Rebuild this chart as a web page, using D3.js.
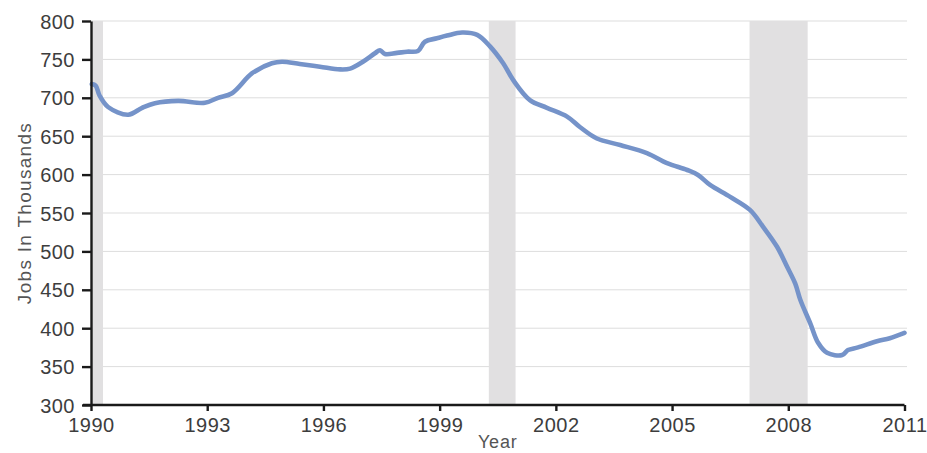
<!DOCTYPE html>
<html><head><meta charset="utf-8">
<script src="https://cdn.jsdelivr.net/npm/d3@7"></script>
<style>
body{margin:0;background:#fff}
text{font-family:"Liberation Sans",Arial,Helvetica,sans-serif}
</style>
</head><body>
<svg id="c" width="927" height="453"></svg>
<script>
// Data
const years = [1990.02,1990.12,1990.22,1990.44,1990.96,1991.32,1991.65,1992.25,1992.94,1993.28,1993.64,
  1994.16,1994.67,1994.93,1995.39,1995.91,1996.43,1996.69,1997.02,1997.33,1997.46,1997.59,1997.90,
  1998.16,1998.44,1998.62,1998.93,1999.19,1999.58,1999.97,2000.30,2000.64,2000.90,2001.33,2001.77,
  2002.29,2002.62,2003.06,2003.66,2004.35,2004.87,2005.39,2005.67,2005.98,2006.50,2007.01,2007.35,
  2007.71,2007.97,2008.18,2008.31,2008.57,2008.77,2009.00,2009.39,2009.54,2009.80,2010.29,2010.62,2011.0];
const jobs = [718,716,703,688,678,687,693,696,693.5,700,706,
  732,745,747,744,740.5,737,738,747,758,762,757,758.5,
  760,761,773,777.5,781,785,782,767,745,723,697,687,
  675.5,662,647,638.5,628,615,606,599.5,586.5,571,554,532,
  506,480,458,437,406,381,368,365,371.5,375,383,387,394];
const recessionStart = [1990.0, 2000.27, 2007.0];
const recessionEnd = [1990.31, 2000.96, 2008.5];
const xTicks = [1990,1993,1996,1999,2002,2005,2008,2011];
const yTicks = [300,350,400,450,500,550,600,650,700,750,800];

const svg = d3.select("#c");
const x = d3.scaleLinear().domain([1990,2011]).range([91,904.5]);
const y = d3.scaleLinear().domain([300,800]).range([405,21]);

// gridlines
svg.append("g").selectAll("line").data(yTicks.filter(d=>d>300)).join("line")
  .attr("x1", x(1990)).attr("x2", x(2011)+2.5)
  .attr("y1", d=>y(d)).attr("y2", d=>y(d))
  .attr("stroke","#dddddd").attr("stroke-width",1);

// recession bands
svg.append("g").selectAll("rect").data(recessionStart).join("rect")
  .attr("x",(d)=>x(d)).attr("width",(d,i)=>x(recessionEnd[i])-x(d))
  .attr("y",y(800)).attr("height",y(300)-y(800))
  .attr("fill","#e1e0e1");

// line
const pts = years.map((yr,i)=>[yr,jobs[i]]);
svg.append("path").datum(pts)
  .attr("fill","none").attr("stroke","#7593c9").attr("stroke-width",4.6)
  .attr("stroke-linejoin","round").attr("stroke-linecap","round")
  .attr("d", d3.line().x(d=>x(d[0])).y(d=>y(d[1])).curve(d3.curveCatmullRom.alpha(0.5)));

// axes
const yAxis = svg.append("g").attr("transform",`translate(${x(1990)},0)`)
  .call(d3.axisLeft(y).tickValues(yTicks).tickSize(9).tickSizeOuter(0).tickPadding(7));
yAxis.select(".domain").attr("stroke","#1a1a1a").attr("stroke-width",2.4);
yAxis.selectAll(".tick line").attr("stroke","#1a1a1a").attr("stroke-width",2.4);
yAxis.selectAll(".tick text").attr("font-size",20).attr("fill","#3d3d3d")
  .attr("letter-spacing","0.5px").attr("dy","0.35em")
  .attr("font-family","Liberation Sans, Arial, sans-serif");

const xAxis = svg.append("g").attr("transform",`translate(0,${y(300)})`)
  .call(d3.axisBottom(x).tickValues(xTicks).tickFormat(d3.format("d")).tickSize(6).tickSizeOuter(0).tickPadding(7));
xAxis.select(".domain").attr("stroke","#1a1a1a").attr("stroke-width",2.4)
  .attr("d", `M${x(1990)-8},0H${x(2011)}`);
xAxis.selectAll(".tick line").attr("stroke","#1a1a1a").attr("stroke-width",2.4);
xAxis.selectAll(".tick text").attr("font-size",20).attr("fill","#3d3d3d")
  .attr("letter-spacing","0.5px").attr("dy","0.72em")
  .attr("font-family","Liberation Sans, Arial, sans-serif");

// axis titles
svg.append("text").attr("x", (x(1990)+x(2011))/2).attr("y", 448)
  .attr("text-anchor","middle").attr("font-size",18).attr("fill","#555")
  .attr("letter-spacing","0.8px").text("Year");
svg.append("text").attr("transform",`translate(31,${(y(300)+y(800))/2})rotate(-90)`)
  .attr("text-anchor","middle").attr("font-size",19).attr("fill","#555")
  .attr("letter-spacing","1.3px").text("Jobs In Thousands");
</script>
</body></html>
